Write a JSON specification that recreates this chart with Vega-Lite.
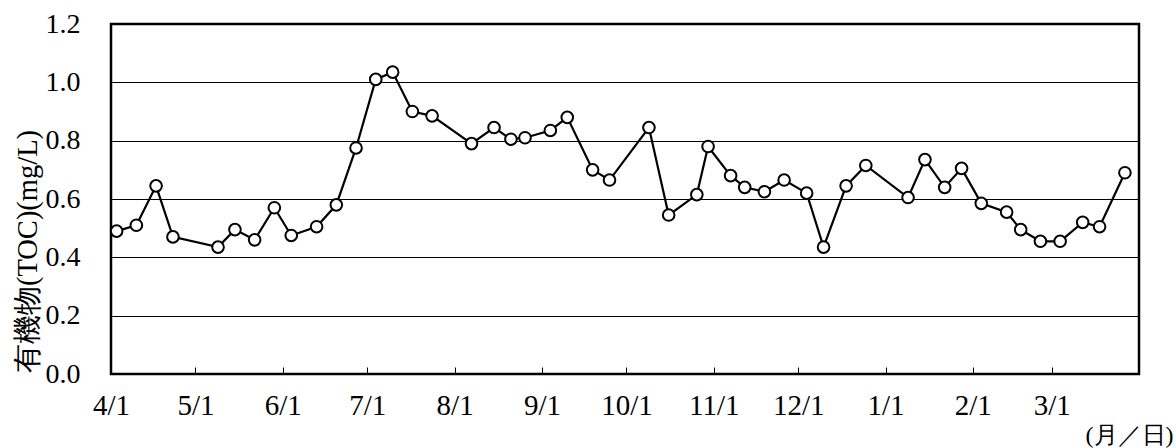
{
  "$schema": "https://vega.github.io/schema/vega-lite/v6.json",
  "width": 1028,
  "height": 350,
  "autosize": {"type": "none"},
  "padding": {"left": 111, "top": 24, "right": 37, "bottom": 74},
  "background": "white",
  "config": {
    "view": {"stroke": "black", "strokeWidth": 2.5},
    "font": "Liberation Serif",
    "axis": {"labelFont": "Liberation Serif", "titleFont": "Liberation Serif"}
  },
  "data": {
    "values": [
      {"date": "2018/04/03", "toc": 0.49},
      {"date": "2018/04/10", "toc": 0.51},
      {"date": "2018/04/17", "toc": 0.645},
      {"date": "2018/04/23", "toc": 0.47},
      {"date": "2018/05/09", "toc": 0.435},
      {"date": "2018/05/15", "toc": 0.495},
      {"date": "2018/05/22", "toc": 0.46},
      {"date": "2018/05/29", "toc": 0.57},
      {"date": "2018/06/04", "toc": 0.475},
      {"date": "2018/06/13", "toc": 0.505},
      {"date": "2018/06/20", "toc": 0.58},
      {"date": "2018/06/27", "toc": 0.775},
      {"date": "2018/07/04", "toc": 1.01},
      {"date": "2018/07/10", "toc": 1.035},
      {"date": "2018/07/17", "toc": 0.9},
      {"date": "2018/07/24", "toc": 0.885},
      {"date": "2018/08/07", "toc": 0.79},
      {"date": "2018/08/15", "toc": 0.845},
      {"date": "2018/08/21", "toc": 0.805},
      {"date": "2018/08/26", "toc": 0.81},
      {"date": "2018/09/04", "toc": 0.835},
      {"date": "2018/09/10", "toc": 0.88},
      {"date": "2018/09/19", "toc": 0.7},
      {"date": "2018/09/25", "toc": 0.665},
      {"date": "2018/10/09", "toc": 0.845},
      {"date": "2018/10/16", "toc": 0.545},
      {"date": "2018/10/26", "toc": 0.615},
      {"date": "2018/10/30", "toc": 0.78},
      {"date": "2018/11/07", "toc": 0.68},
      {"date": "2018/11/12", "toc": 0.64},
      {"date": "2018/11/19", "toc": 0.625},
      {"date": "2018/11/26", "toc": 0.665},
      {"date": "2018/12/04", "toc": 0.62},
      {"date": "2018/12/10", "toc": 0.435},
      {"date": "2018/12/18", "toc": 0.645},
      {"date": "2018/12/25", "toc": 0.715},
      {"date": "2019/01/09", "toc": 0.605},
      {"date": "2019/01/15", "toc": 0.735},
      {"date": "2019/01/22", "toc": 0.64},
      {"date": "2019/01/28", "toc": 0.705},
      {"date": "2019/02/04", "toc": 0.585},
      {"date": "2019/02/13", "toc": 0.555},
      {"date": "2019/02/18", "toc": 0.495},
      {"date": "2019/02/25", "toc": 0.455},
      {"date": "2019/03/04", "toc": 0.455},
      {"date": "2019/03/12", "toc": 0.52},
      {"date": "2019/03/18", "toc": 0.505},
      {"date": "2019/03/27", "toc": 0.69}
    ]
  },
  "encoding": {
    "x": {
      "field": "date",
      "type": "temporal",
      "scale": {
        "domain": [
          {"year": 2018, "month": 4, "date": 1},
          {"year": 2019, "month": 4, "date": 1}
        ],
        "nice": false
      },
      "axis": {
        "values": [
          {"year": 2018, "month": 4, "date": 1},
          {"year": 2018, "month": 5, "date": 1},
          {"year": 2018, "month": 6, "date": 1},
          {"year": 2018, "month": 7, "date": 1},
          {"year": 2018, "month": 8, "date": 1},
          {"year": 2018, "month": 9, "date": 1},
          {"year": 2018, "month": 10, "date": 1},
          {"year": 2018, "month": 11, "date": 1},
          {"year": 2018, "month": 12, "date": 1},
          {"year": 2019, "month": 1, "date": 1},
          {"year": 2019, "month": 2, "date": 1},
          {"year": 2019, "month": 3, "date": 1}
        ],
        "format": "%-m/%-d",
        "grid": false,
        "domain": false,
        "ticks": true,
        "tickSize": -7,
        "tickColor": "black",
        "tickWidth": 1,
        "labelPadding": 24,
        "labelFontSize": 29,
        "labelColor": "black",
        "labelFlush": false,
        "labelOverlap": false,
        "title": "(月／日)",
        "titleFontSize": 24,
        "titleFontWeight": "normal",
        "titleColor": "black",
        "titleAnchor": null,
        "titleAlign": "right",
        "titleBaseline": "middle",
        "titleX": 1062,
        "titleY": 61
      }
    },
    "y": {
      "field": "toc",
      "type": "quantitative",
      "scale": {"domain": [0, 1.2], "nice": false},
      "axis": {
        "values": [0, 0.2, 0.4, 0.6, 0.8, 1.0, 1.2],
        "format": ".1f",
        "grid": true,
        "gridColor": "black",
        "gridWidth": 1,
        "gridOpacity": 1,
        "domain": false,
        "ticks": false,
        "labelPadding": 31,
        "labelFontSize": 28,
        "labelColor": "black",
        "labelFlush": false,
        "labelOverlap": false,
        "title": "有機物(TOC)(mg/L)",
        "titleFontSize": 28.5,
        "titleFontWeight": "normal",
        "titleColor": "black",
        "titleAngle": -90,
        "titleAlign": "center",
        "titleBaseline": "middle",
        "titleX": -84,
        "titleY": 227
      }
    }
  },
  "layer": [
    {"mark": {"type": "line", "color": "black", "strokeWidth": 2.2}},
    {
      "mark": {
        "type": "point",
        "shape": "circle",
        "filled": true,
        "fill": "white",
        "stroke": "black",
        "strokeWidth": 2,
        "size": 135,
        "opacity": 1
      }
    }
  ]
}
